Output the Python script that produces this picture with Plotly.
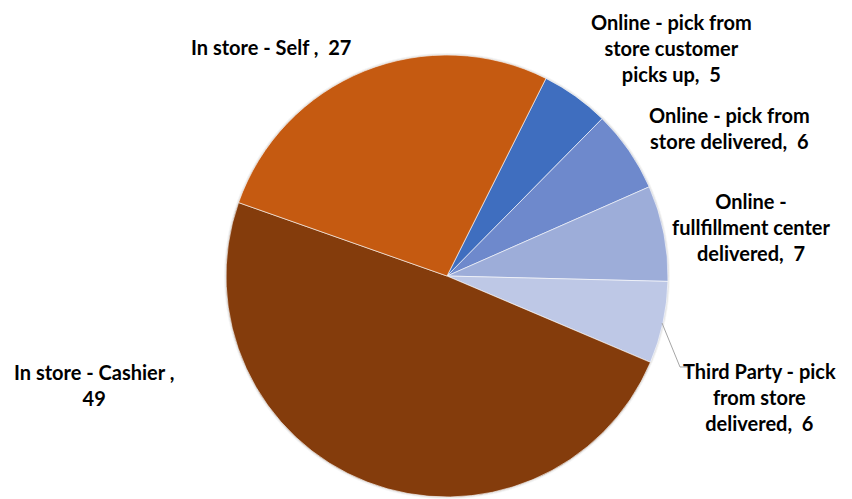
import plotly.graph_objects as go

# Purchase channel shares
channels = [
    "Online - pick from<br>store customer<br>picks up",
    "Online - pick from<br>store delivered",
    "Online -<br>fullfillment center<br>delivered",
    "Third Party - pick<br>from store<br>delivered",
    "In store - Cashier ",
    "In store - Self ",
]
shares = [5, 6, 7, 6, 49, 27]
colors = ["#3F6EBF", "#6E89CC", "#9DADD9", "#BEC8E6", "#843C0C", "#C55A11"]

# Label centres (paper coordinates) and line breaks before the value
label_x = [0.788, 0.856, 0.882, 0.892, 0.110, 0.318]
label_y = [0.904, 0.743, 0.545, 0.204, 0.228, 0.906]
value_break = ["", "", "", "", "<br>", ""]

W, H = 852, 499
cx, cy, r = 447, 276, 221

def domain(pad):
    clamp = lambda v: min(1.0, max(0.0, v))
    return dict(
        x=[clamp((cx - r - pad) / W), clamp((cx + r + pad) / W)],
        y=[clamp((H - (cy + r + pad)) / H), clamp((H - (cy - r - pad)) / H)],
    )

fig = go.Figure()

# soft drop shadow rings behind the pie
for pad, alpha in [(2, 0.04), (1, 0.07)]:
    fig.add_trace(go.Pie(
        values=[1], marker=dict(colors=[f"rgba(0,0,0,{alpha})"]),
        textinfo="none", hoverinfo="skip", showlegend=False,
        domain=domain(pad), sort=False,
    ))

fig.add_trace(go.Pie(
    labels=channels,
    values=shares,
    marker=dict(colors=colors, line=dict(color="white", width=0.6)),
    sort=False,
    direction="clockwise",
    rotation=26.6,
    textinfo="none",
    showlegend=False,
    domain=domain(0),
))

for name, v, x, y, br in zip(channels, shares, label_x, label_y, value_break):
    text = f"<b>{name},{br}{v}</b>" if br else f"<b>{name},\u00a0\u00a0{v}</b>"
    fig.add_annotation(
        x=x, y=y, xref="paper", yref="paper",
        xanchor="center", yanchor="middle",
        text=text,
        showarrow=False, align="center",
        font=dict(family="Lato", size=20, color="#000000"),
    )

# leader line for the third-party label
fig.add_shape(type="path", xref="paper", yref="paper",
              path=f"M {662/W} {1-323/H} L {680/W} {1-367/H} L {688/W} {1-367/H}",
              line=dict(color="#A6A6A6", width=1))

fig.update_layout(
    width=W, height=H,
    margin=dict(l=0, r=0, t=0, b=0),
    paper_bgcolor="white", plot_bgcolor="white",
)

fig.write_html("out.html")
